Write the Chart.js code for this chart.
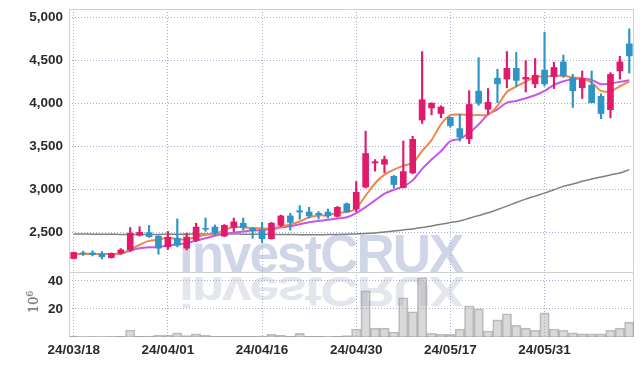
<!DOCTYPE html>
<html>
<head>
<meta charset="utf-8">
<script src="https://cdn.jsdelivr.net/npm/chart.js@4.4.1/dist/chart.umd.min.js"></script>
<style>
  html, body { margin: 0; padding: 0; background: #fff; }
  #wrap { position: relative; width: 643px; height: 366px; overflow: hidden; }
  .mark { position: absolute; left: 179px; top: 227px; font: bold 53px 'Liberation Sans', Arial, sans-serif;
          letter-spacing: -2px; line-height: 53px; white-space: nowrap; color: #d0d6e8; }
  .mark.mirror { color: #e4e6ee; transform-origin: 0 45px; transform: translateY(5px) scaleY(-0.8); }
  canvas { position: absolute; left: 0; }
  #priceChart { top: 0; }
  #volChart { top: 262px; }
  #unit { position: absolute; left: 33px; top: 302px; transform: translate(-50%, -50%) rotate(-90deg);
          font: 13px 'DejaVu Serif', serif; color: #555; white-space: nowrap; }
  #unit sup { font-size: 9px; }
</style>
</head>
<body>
<div id="wrap">
  <div class="mark">investCRUX</div>
  <div class="mark mirror">investCRUX</div>
  <canvas id="priceChart" width="643" height="273"></canvas>
  <canvas id="volChart" width="643" height="104"></canvas>
  <div id="unit">10<sup>6</sup></div>
</div>
<script>
const dates = [
  '24/03/18','24/03/19','24/03/20','24/03/21','24/03/22','24/03/25','24/03/26','24/03/27','24/03/28','24/03/29',
  '24/04/01','24/04/02','24/04/03','24/04/04','24/04/05','24/04/08','24/04/09','24/04/11','24/04/12','24/04/15',
  '24/04/16','24/04/17','24/04/18','24/04/19','24/04/22','24/04/23','24/04/24','24/04/25','24/04/26','24/04/29',
  '24/04/30','24/05/02','24/05/03','24/05/07','24/05/08','24/05/09','24/05/10','24/05/13','24/05/14','24/05/16',
  '24/05/17','24/05/20','24/05/21','24/05/22','24/05/23','24/05/24','24/05/27','24/05/28','24/05/29','24/05/30',
  '24/05/31','24/06/03','24/06/04','24/06/05','24/06/07','24/06/10','24/06/11','24/06/12','24/06/13','24/06/14'
];

const opens = [
  2195,2260,2260,2245,2205,2255,2295,2465,2495,2455,
  2330,2430,2315,2405,2545,2560,2455,2555,2605,2545,
  2525,2425,2580,2690,2750,2735,2720,2735,2685,2830,
  2770,3025,3305,3290,3150,3020,3190,3805,3945,3880,
  3835,3705,3585,4140,3930,4290,4280,4405,4280,4225,
  4385,4310,4480,4295,4180,4210,4080,3925,4375,4690
];
const highs = [
  2270,2280,2285,2275,2260,2310,2555,2565,2580,2460,
  2510,2655,2490,2605,2665,2585,2590,2665,2665,2555,
  2615,2615,2700,2720,2810,2790,2740,2770,2800,2840,
  3090,3675,3345,3385,3160,3560,3615,4600,4005,3970,
  3840,3870,4145,4530,4170,4395,4600,4590,4495,4520,
  4825,4475,4560,4335,4375,4375,4110,4355,4545,4865
];
const lows = [
  2190,2230,2225,2190,2200,2245,2280,2455,2440,2245,
  2300,2330,2295,2390,2510,2470,2450,2510,2525,2430,
  2380,2420,2565,2525,2650,2665,2655,2665,2675,2730,
  2740,3015,3210,3190,3015,3015,3180,3765,3865,3830,
  3720,3560,3530,3975,3870,4005,4180,4195,4130,4180,
  4200,4170,4300,3950,4055,4005,3820,3830,4280,4350
];
const closes = [
  2265,2250,2240,2215,2255,2295,2490,2500,2450,2315,
  2440,2350,2440,2560,2535,2490,2580,2620,2555,2520,
  2425,2605,2690,2615,2735,2690,2705,2690,2790,2735,
  2965,3415,3320,3345,3055,3205,3580,4040,4000,3955,
  3740,3605,3985,4000,4010,4225,4405,4265,4300,4325,
  4225,4415,4320,4145,4285,4005,3880,4335,4480,4550
];
const ma5 = [
  2245,2247,2247,2247,2245,2252,2300,2355,2400,2412,
  2438,2418,2420,2445,2470,2480,2525,2560,2558,2550,
  2545,2548,2565,2590,2625,2675,2695,2698,2725,2735,
  2780,2925,3070,3170,3228,3275,3305,3445,3570,3755,
  3862,3868,3862,3862,3868,3970,4130,4193,4250,4305,
  4310,4318,4318,4300,4287,4240,4143,4140,4195,4255
];
const ma10 = [
  2245,2247,2247,2247,2247,2252,2286,2313,2325,2329,
  2344,2360,2375,2403,2430,2460,2480,2496,2508,2519,
  2527,2535,2554,2570,2593,2617,2632,2644,2660,2675,
  2722,2792,2870,2948,2994,3033,3103,3236,3345,3442,
  3559,3586,3656,3753,3870,3929,4006,4026,4057,4092,
  4143,4213,4256,4279,4287,4271,4221,4232,4248,4268
];
const ma60 = [
  2480,2479,2478,2477,2476,2475,2474,2474,2474,2475,
  2476,2477,2478,2479,2480,2480,2480,2479,2478,2477,
  2476,2475,2474,2473,2472,2472,2472,2473,2475,2478,
  2481,2485,2492,2504,2515,2527,2539,2554,2574,2593,
  2613,2632,2663,2694,2726,2764,2804,2846,2885,2920,
  2955,2994,3033,3060,3092,3119,3142,3166,3189,3228
];
// volume in millions
const volumes = [
  0.4,0.2,0.3,0.2,0.3,0.5,5.0,0.5,0.7,1.4,
  1.4,2.9,1.0,2.2,1.2,0.5,0.5,0.5,0.4,0.5,
  0.7,1.9,1.2,0.5,2.6,0.5,0.5,0.3,0.5,1.0,
  5.7,33.0,6.3,6.3,3.6,28.0,18.0,42.4,2.7,2.1,
  1.9,5.7,22.3,20.1,4.3,12.2,16.6,8.4,6.3,4.8,
  17.2,5.7,4.8,2.9,2.2,2.2,2.2,4.8,6.3,10.6
];
const priceTicks = [2500, 3000, 3500, 4000, 4500, 5000];
const volTicks = [20, 40];
const labelEvery = 10;

const UP = '#e01b6b';
const DOWN = '#2e95c6';
const GRID = 'rgb(168,174,206)';
const FRAME = '#cfcfcf';
const TICK_FONT = { family: "'Liberation Sans', Arial, sans-serif", size: 13.5, weight: 'bold' };

const candleColors = opens.map((o, i) => closes[i] >= o ? UP : DOWN);

function framePlugin(sides) {
  return {
    id: 'frame',
    beforeDatasetsDraw(chart) {
      const { ctx, chartArea: a } = chart;
      ctx.save();
      ctx.strokeStyle = FRAME;
      ctx.lineWidth = 1;
      ctx.beginPath();
      const l = a.left + 0.5, r = a.right - 0.5, t = a.top + 0.5, b = a.bottom - 0.5;
      if (sides.includes('t')) { ctx.moveTo(l, t); ctx.lineTo(r, t); }
      if (sides.includes('b')) { ctx.moveTo(l, b); ctx.lineTo(r, b); }
      if (sides.includes('l')) { ctx.moveTo(l, t); ctx.lineTo(l, b); }
      if (sides.includes('r')) { ctx.moveTo(r, t); ctx.lineTo(r, b); }
      ctx.stroke();
      ctx.restore();
    }
  };
}

// keep label overhang from pushing the plot area around
function noPad(s) {
  s.paddingTop = 0; s.paddingBottom = 0; s.paddingLeft = 0; s.paddingRight = 0;
}

function xAxis(showLabels) {
  return {
    offset: true,
    grid: {
      offset: false,
      drawTicks: false,
      color: c => (c.index % labelEvery === 0 ? GRID : 'rgba(0,0,0,0)')
    },
    border: { display: false, dash: [1, 2] },
    ticks: {
      display: showLabels,
      autoSkip: false,
      maxRotation: 0,
      minRotation: 0,
      padding: 5,
      color: '#2a2a2a',
      font: TICK_FONT,
      callback: (v, i) => (i % labelEvery === 0 ? dates[i] : '')
    },
    afterFit: s => { s.height = showLabels ? 29 : 0; noPad(s); }
  };
}

new Chart(document.getElementById('priceChart'), {
  type: 'bar',
  data: {
    labels: dates,
    datasets: [
      {
        type: 'bar',
        data: opens.map((o, i) => [o, closes[i]]),
        backgroundColor: candleColors,
        barThickness: 6,
        grouped: false,
        order: 1
      },
      {
        type: 'bar',
        data: lows.map((l, i) => [l, highs[i]]),
        backgroundColor: candleColors,
        barThickness: 1.5,
        grouped: false,
        order: 2
      },
      {
        type: 'line',
        data: ma5,
        borderColor: '#f0874c',
        borderWidth: 2,
        pointRadius: 0,
        tension: 0.3,
        order: 3
      },
      {
        type: 'line',
        data: ma10,
        borderColor: '#c658e8',
        borderWidth: 2,
        pointRadius: 0,
        tension: 0.3,
        order: 4
      },
      {
        type: 'line',
        data: ma60,
        borderColor: '#808080',
        borderWidth: 1.5,
        pointRadius: 0,
        tension: 0.3,
        order: 5
      }
    ]
  },
  options: {
    responsive: false,
    animation: false,
    layout: { padding: { left: 0, right: 9, top: 9, bottom: 1 } },
    plugins: { legend: { display: false }, tooltip: { enabled: false } },
    scales: {
      x: xAxis(false),
      y: {
        min: 2038,
        max: 5095,
        afterBuildTicks: s => { s.ticks = priceTicks.map(v => ({ value: v })); },
        grid: { drawTicks: false, color: GRID },
        border: { display: false, dash: [1, 2] },
        ticks: {
          padding: 6,
          color: '#2a2a2a',
          font: TICK_FONT,
          callback: v => v.toLocaleString('en-US')
        },
        afterFit: s => { s.width = 69; noPad(s); }
      }
    }
  },
  plugins: [framePlugin('tlr')]
});

new Chart(document.getElementById('volChart'), {
  type: 'bar',
  data: {
    labels: dates,
    datasets: [{
      data: volumes,
      backgroundColor: 'rgba(165,165,165,0.42)',
      borderColor: 'rgba(140,140,140,0.55)',
      borderWidth: 1,
      barPercentage: 1,
      categoryPercentage: 1
    }]
  },
  options: {
    responsive: false,
    animation: false,
    layout: { padding: { left: 0, right: 9, top: 10, bottom: 0 } },
    plugins: { legend: { display: false }, tooltip: { enabled: false } },
    scales: {
      x: xAxis(true),
      y: {
        min: 0,
        max: 46.4,
        afterBuildTicks: s => { s.ticks = volTicks.map(v => ({ value: v })); },
        grid: { drawTicks: false, color: GRID },
        border: { display: false, dash: [1, 2] },
        ticks: { padding: 6, color: '#2a2a2a', font: TICK_FONT },
        afterFit: s => { s.width = 69; noPad(s); }
      }
    }
  },
  plugins: [framePlugin('tlrb')]
});
</script>
</body>
</html>
